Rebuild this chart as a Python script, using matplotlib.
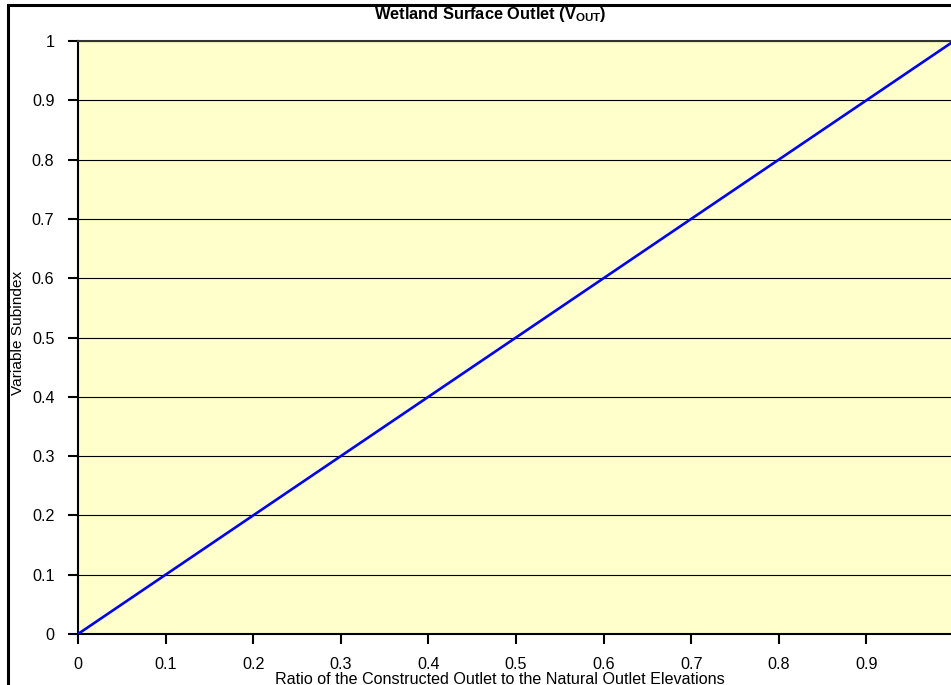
import numpy as np
import matplotlib
matplotlib.use("Agg")
import matplotlib.pyplot as plt
from matplotlib.patches import Rectangle

plt.rcParams['font.family'] = ['Liberation Sans', 'DejaVu Sans']
plt.rcParams['mathtext.fontset'] = 'custom'
plt.rcParams['mathtext.rm'] = 'Liberation Sans'
plt.rcParams['mathtext.bf'] = 'Liberation Sans:bold'

# data
ratio = [0.0, 1.0]
subindex = [0.0, 1.0]
xticks = [0, 0.1, 0.2, 0.3, 0.4, 0.5, 0.6, 0.7, 0.8, 0.9]
yticks = [0, 0.1, 0.2, 0.3, 0.4, 0.5, 0.6, 0.7, 0.8, 0.9, 1]

W, H = 951, 685
FS = 11.6
fig = plt.figure(figsize=(W / 100, H / 100), dpi=100)

# plot area in pixels: left 78, right ~954 (x=1), top 41, bottom 634
left, right, top, bottom = 78, 954, 41, 634
ax = fig.add_axes([left / W, 1 - bottom / H, (right - left) / W, (bottom - top) / H])
ax.set_facecolor('#FFFFCC')

ax.plot(ratio, subindex, color='#0000FF', lw=1.9, solid_capstyle='butt', zorder=3)

ax.set_xlim(0, 1)
ax.set_ylim(0, 1)
ax.set_xticks(xticks)
ax.set_xticklabels([f"{t:g}" for t in xticks])
ax.set_yticks(yticks)
ax.set_yticklabels([f"{t:g}" for t in yticks])
ax.yaxis.grid(True, color='black', lw=0.8)
ax.set_axisbelow(True)

ax.spines['right'].set_visible(False)
ax.spines['top'].set_color('#333333')
for s in ['top', 'left', 'bottom']:
    ax.spines[s].set_linewidth(1.5)

ax.tick_params(axis='both', direction='out', length=7, width=1.5, labelsize=FS,
               colors='black')
ax.tick_params(axis='x', pad=9.5)
ax.tick_params(axis='y', pad=10)

# axis titles and chart title placed in figure pixels
fig.text(500 / W, 1 - 679 / H, 'Ratio of the Constructed Outlet to the Natural Outlet Elevations',
         fontsize=FS, ha='center', va='center')
fig.text(18 / W, 1 - 333 / H, 'Variable Subindex', fontsize=11.1, rotation=90,
         ha='center', va='center')
fig.text(490 / W, 1 - 15 / H, r'Wetland Surface Outlet (V$_{\mathbf{OUT}}$)',
         fontsize=11.8, fontweight='bold', ha='center', va='center')

# outer chart border (cropped on right and bottom)
fig.patches.append(Rectangle((7.5 / W, -0.05), 1.1, 1 - 5.5 / H + 0.05,
                             transform=fig.transFigure, fill=False,
                             edgecolor='black', lw=2.2))

fig.savefig('out.png', dpi=100)
